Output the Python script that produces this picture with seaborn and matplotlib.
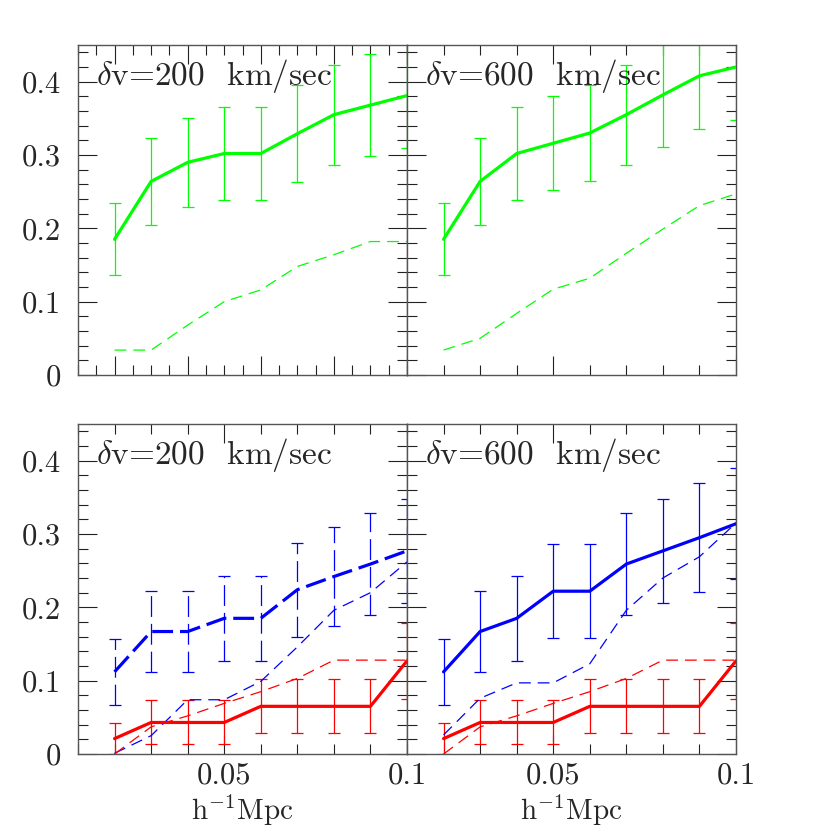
import numpy as np
import matplotlib
matplotlib.use("Agg")
import matplotlib.pyplot as plt
from matplotlib.ticker import MultipleLocator, FixedLocator, NullFormatter
import seaborn as sns

sns.set_style("ticks")
plt.rcParams['font.family'] = ['cmr10', 'DejaVu Serif']
plt.rcParams['mathtext.fontset'] = 'cm'
plt.rcParams['axes.formatter.use_mathtext'] = True
plt.rcParams['axes.unicode_minus'] = False
plt.rcParams['lines.scale_dashes'] = False

# ----------------------------
# data
# ----------------------------
x = [0.02, 0.03, 0.04, 0.05, 0.06, 0.07, 0.08, 0.09, 0.10]

# top row: green
g200 = [0.185, 0.264, 0.290, 0.302, 0.302, 0.329, 0.355, 0.368, 0.381]
g200_err = [0.049, 0.059, 0.061, 0.063, 0.063, 0.066, 0.068, 0.070, 0.071]
g200_dash = [0.034, 0.034, 0.068, 0.100, 0.116, 0.148, 0.164, 0.182, 0.182]

g600 = [0.185, 0.264, 0.302, 0.316, 0.330, 0.355, 0.382, 0.408, 0.420]
g600_err = [0.049, 0.059, 0.063, 0.064, 0.066, 0.068, 0.071, 0.073, 0.072]
g600_dash = [0.034, 0.050, 0.084, 0.117, 0.132, 0.166, 0.199, 0.231, 0.247]

# bottom row: blue + red
b200 = [0.112, 0.167, 0.167, 0.185, 0.185, 0.224, 0.242, 0.259, 0.277]
b200_err = [0.045, 0.055, 0.055, 0.058, 0.058, 0.064, 0.067, 0.069, 0.071]
b200_dash = [0.001, 0.025, 0.074, 0.074, 0.099, 0.146, 0.196, 0.220, 0.262]

b600 = [0.112, 0.167, 0.185, 0.222, 0.222, 0.259, 0.277, 0.295, 0.314]
b600_err = [0.045, 0.055, 0.058, 0.064, 0.064, 0.069, 0.071, 0.074, 0.076]
b600_dash = [0.026, 0.076, 0.097, 0.097, 0.123, 0.196, 0.240, 0.269, 0.315]

red = [0.021, 0.043, 0.043, 0.043, 0.065, 0.065, 0.065, 0.065, 0.127]
red_err = [0.021, 0.030, 0.030, 0.030, 0.037, 0.037, 0.037, 0.037, 0.052]
red_dash = [0.000, 0.037, 0.052, 0.069, 0.085, 0.103, 0.128, 0.128, 0.128]

GREEN = "#00ff00"
BLUE = "#0000ff"
RED = "#ff0000"

THIN = (0, (8.5, 5))
THICK_DASH = (0, (15, 5))

fig = plt.figure(figsize=(8.3, 8.3), dpi=100)
W, H = 329 / 830, 330 / 830
L = 78 / 830
ax_tl = fig.add_axes([L, 1 - 375 / 830, W, H])
ax_tr = fig.add_axes([L + W, 1 - 375 / 830, W, H])
ax_bl = fig.add_axes([L, 1 - 754 / 830, W, H])
ax_br = fig.add_axes([L + W, 1 - 754 / 830, W, H])


def errbars(ax, y, err, color, dashed=False):
    eb = ax.errorbar(x, y, yerr=err, fmt='none', ecolor=color, elinewidth=0.9,
                     capsize=4.3, capthick=0.9, zorder=2)
    if dashed:
        for coll in eb[2]:
            coll.set_linestyle((0, (15, 5)))


def solid(ax, y, color):
    sns.lineplot(x=x, y=y, ax=ax, color=color, linewidth=2.3, zorder=3)


def thin(ax, y, color):
    sns.lineplot(x=x, y=y, ax=ax, color=color, linewidth=0.9, linestyle=THIN, zorder=3)


# top left
errbars(ax_tl, g200, g200_err, GREEN)
solid(ax_tl, g200, GREEN)
thin(ax_tl, g200_dash, GREEN)

# top right
errbars(ax_tr, g600, g600_err, GREEN)
solid(ax_tr, g600, GREEN)
thin(ax_tr, g600_dash, GREEN)

# bottom left
errbars(ax_bl, b200, b200_err, BLUE, dashed=True)
sns.lineplot(x=x, y=b200, ax=ax_bl, color=BLUE, linewidth=2.3, linestyle=THICK_DASH, zorder=3)
thin(ax_bl, b200_dash, BLUE)
errbars(ax_bl, red, red_err, RED)
solid(ax_bl, red, RED)
thin(ax_bl, red_dash, RED)

# bottom right
errbars(ax_br, b600, b600_err, BLUE)
solid(ax_br, b600, BLUE)
thin(ax_br, b600_dash, BLUE)
errbars(ax_br, red, red_err, RED)
solid(ax_br, red, RED)
thin(ax_br, red_dash, RED)

labels = {ax_tl: "200", ax_tr: "600", ax_bl: "200", ax_br: "600"}
for ax in [ax_tl, ax_tr, ax_bl, ax_br]:
    ax.set_xlim(0.01, 0.1)
    ax.set_ylim(0, 0.45)
    ax.set_xlabel("")
    ax.set_ylabel("")
    ax.yaxis.set_major_locator(FixedLocator([0, 0.1, 0.2, 0.3, 0.4]))
    ax.yaxis.set_minor_locator(MultipleLocator(0.02))
    if ax is ax_tl:
        ax.xaxis.set_major_locator(FixedLocator([0.02, 0.04, 0.06, 0.08, 0.1]))
        ax.xaxis.set_minor_locator(MultipleLocator(0.005))
    else:
        ax.xaxis.set_major_locator(FixedLocator([0.05, 0.1]))
        ax.xaxis.set_minor_locator(MultipleLocator(0.01))
    ax.tick_params(which='both', direction='in', top=True, right=True,
                   width=0.8, color='#222222', labelsize=22)
    ax.tick_params(which='major', length=13.5)
    ax.tick_params(which='minor', length=7)
    ax.tick_params(axis='y', pad=12)
    ax.tick_params(axis='x', pad=6)
    for sp in ax.spines.values():
        sp.set_color('#555555')
        sp.set_linewidth(1.0)
    ax.text(0.055, 0.905, r"$\delta$v=" + labels[ax] + "  km/sec", transform=ax.transAxes,
            fontsize=24, ha='left', va='center')

for ax in [ax_tl, ax_tr]:
    ax.xaxis.set_major_formatter(NullFormatter())
for ax in [ax_tr, ax_br]:
    ax.yaxis.set_major_formatter(NullFormatter())

ax_tl.set_yticklabels(["0", "0.1", "0.2", "0.3", "0.4"])
ax_bl.set_yticklabels(["0", "0.1", "0.2", "0.3", "0.4"])
for ax in [ax_bl, ax_br]:
    ax.set_xticklabels(["0.05", "0.1"])

# axis titles below the bottom panels
for cx in [L + W / 2, L + 1.5 * W]:
    fig.text(cx, 0.003, r"h$^{-1}$Mpc", fontsize=21, ha='center', va='bottom')

fig.savefig("out.png", dpi=100)
